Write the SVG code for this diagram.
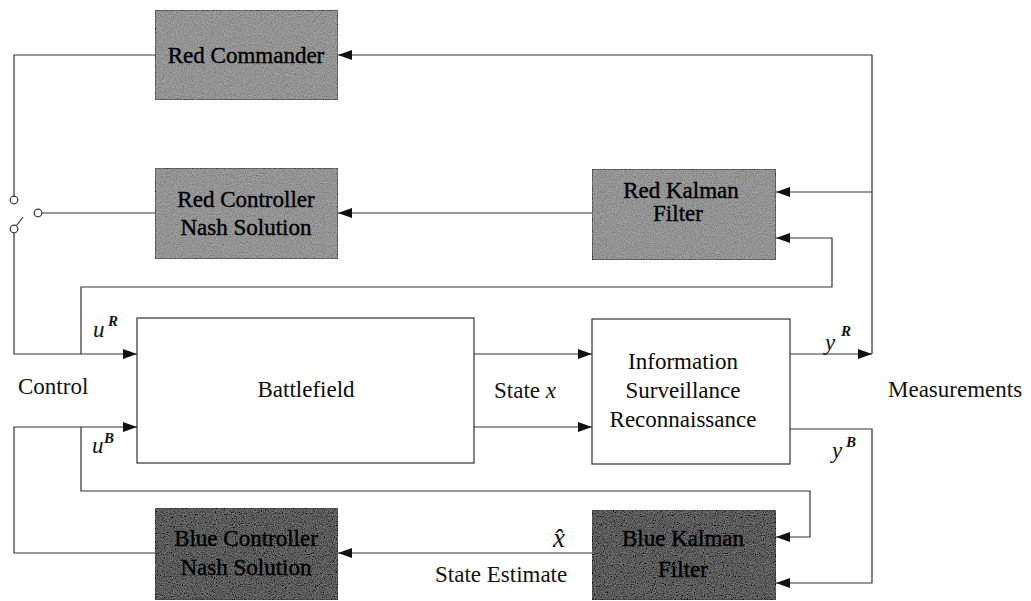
<svg xmlns="http://www.w3.org/2000/svg" width="1031" height="601" viewBox="0 0 1031 601">
<style>
.t{font-family:'Liberation Serif','Times New Roman','DejaVu Serif',serif;font-size:23px;fill:#111;}
.bt{font-family:'Liberation Serif','Times New Roman','DejaVu Serif',serif;font-size:23px;fill:#0a0a0a;text-anchor:middle;}
.dk{fill:#000;stroke:#000;stroke-width:0.4;}
.it{font-style:italic;}
.sup{font-family:'Liberation Serif','Times New Roman','DejaVu Serif',serif;font-size:15px;font-style:italic;font-weight:bold;fill:#111;}
.ln{fill:none;stroke:#333;stroke-width:1.2;}
.box{stroke:#444;stroke-width:1.2;}
.red{fill:#949494;}
.blue{fill:#5c5c5c;}
.wbox{fill:#fff;stroke:#333;stroke-width:1.2;}
.sw{fill:#fff;stroke:#333;stroke-width:1.2;}
</style>
<defs>
<marker id="ah" viewBox="0 0 14 10" refX="14" refY="5" markerWidth="14" markerHeight="10" markerUnits="userSpaceOnUse" orient="auto">
<path d="M0,0 L14,5 L0,10 Z" fill="#111"/>
</marker>
<filter id="grain" x="0" y="0" width="1" height="1">
<feTurbulence type="fractalNoise" baseFrequency="0.9" numOctaves="2" seed="4" result="n"/>
<feColorMatrix in="n" type="matrix" values="0.33 0.33 0.33 0 0 0.33 0.33 0.33 0 0 0.33 0.33 0.33 0 0 0 0 0 0 1" result="g"/>
<feComposite in="SourceGraphic" in2="g" operator="arithmetic" k1="0" k2="1" k3="0.6" k4="-0.3" result="c"/>
<feComposite in="c" in2="SourceGraphic" operator="in"/>
</filter>
</defs>

<g id="connectors">
<polyline class="ln" points="155,55 14,55 14,196"/>
<polyline class="ln" points="14,233 14,354 137,354" marker-end="url(#ah)"/>
<line class="ln" x1="16.5" y1="225.5" x2="23" y2="217"/>
<line class="ln" x1="42" y1="213" x2="155" y2="213"/>
<line class="ln" x1="592" y1="213" x2="338" y2="213" marker-end="url(#ah)"/>
<polyline class="ln" points="81,354 81,287 832,287 832,238 776,238" marker-end="url(#ah)"/>
<polyline class="ln" points="790,354 872,354" marker-end="url(#ah)"/>
<polyline class="ln" points="872,354 872,55 338,55" marker-end="url(#ah)"/>
<line class="ln" x1="872" y1="192" x2="776" y2="192" marker-end="url(#ah)"/>
<line class="ln" x1="474" y1="354" x2="592" y2="354" marker-end="url(#ah)"/>
<line class="ln" x1="474" y1="427" x2="592" y2="427" marker-end="url(#ah)"/>
<polyline class="ln" points="155,553 14,553 14,427 137,427" marker-end="url(#ah)"/>
<polyline class="ln" points="81,427 81,491 810,491 810,537 776,537" marker-end="url(#ah)"/>
<line class="ln" x1="592" y1="553" x2="338" y2="553" marker-end="url(#ah)"/>
<polyline class="ln" points="790,429 872,429 872,583 776,583" marker-end="url(#ah)"/>
<circle class="sw" cx="14" cy="200" r="3.8"/>
<circle class="sw" cx="38" cy="213" r="3.8"/>
<circle class="sw" cx="14" cy="229" r="3.8"/>
</g>

<g id="red-commander">
<rect class="box red" x="155" y="10" width="183" height="90" filter="url(#grain)"/>
<text class="bt dk" x="246" y="63">Red Commander</text>
</g>
<g id="red-controller">
<rect class="box red" x="155" y="168" width="183" height="91" filter="url(#grain)"/>
<text class="bt dk" x="246" y="207">Red Controller</text>
<text class="bt dk" x="246" y="235">Nash Solution</text>
</g>
<g id="red-kalman">
<rect class="box red" x="592" y="169" width="184" height="91" filter="url(#grain)"/>
<text class="bt dk" x="681" y="198">Red Kalman</text>
<text class="bt dk" x="678" y="221">Filter</text>
</g>
<g id="battlefield">
<rect class="wbox" x="137" y="318" width="337" height="145"/>
<text class="bt" x="306" y="397">Battlefield</text>
</g>
<g id="isr">
<rect class="wbox" x="592" y="319" width="198" height="145"/>
<text class="bt" x="683" y="369">Information</text>
<text class="bt" x="683" y="398">Surveillance</text>
<text class="bt" x="683" y="427">Reconnaissance</text>
</g>
<g id="blue-controller">
<rect class="box blue" x="155" y="508" width="183" height="92" filter="url(#grain)"/>
<text class="bt dk" x="246" y="546">Blue Controller</text>
<text class="bt dk" x="246" y="575">Nash Solution</text>
</g>
<g id="blue-kalman">
<rect class="box blue" x="592" y="510" width="184" height="90" filter="url(#grain)"/>
<text class="bt dk" x="683" y="546">Blue Kalman</text>
<text class="bt dk" x="683" y="577">Filter</text>
</g>

<g id="labels">
<text class="t" x="18" y="394">Control</text>
<text class="t" x="888" y="397">Measurements</text>
<text class="t" x="494" y="398">State <tspan class="it">x</tspan></text>
<text class="t" x="435" y="582">State Estimate</text>
<text class="t it" x="553" y="547" style="font-size:27px">x̂</text>
<text class="t it" x="93" y="337">u</text><text class="sup" x="108" y="326">R</text>
<text class="t it" x="92" y="453">u</text><text class="sup" x="104" y="443">B</text>
<text class="t it" x="825" y="350">y</text><text class="sup" x="841" y="336">R</text>
<text class="t it" x="832" y="458">y</text><text class="sup" x="846" y="447">B</text>
</g>
</svg>
